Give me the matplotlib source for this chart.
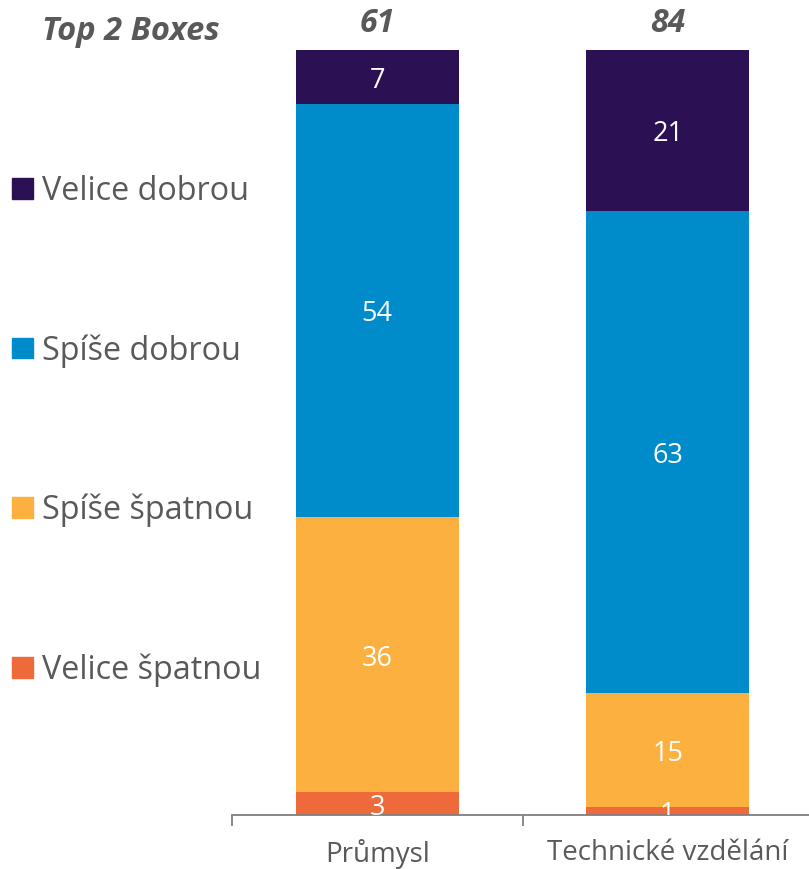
import matplotlib
matplotlib.use("Agg")
import matplotlib.pyplot as plt
import numpy as np

plt.rcParams['font.family'] = ['Open Sans', 'DejaVu Sans']

categories = ["Průmysl", "Technické vzdělání"]
series_names = ["Velice špatnou", "Spíše špatnou", "Spíše dobrou", "Velice dobrou"]
values = {
    "Velice špatnou": [3, 1],
    "Spíše špatnou": [36, 15],
    "Spíše dobrou": [54, 63],
    "Velice dobrou": [7, 21],
}
top2 = [61, 84]
colors = {
    "Velice špatnou": "#EE6A3A",
    "Spíše špatnou": "#FBB040",
    "Spíše dobrou": "#008BCB",
    "Velice dobrou": "#2B1153",
}
gray = "#595959"

W, H = 809, 869
fig = plt.figure(figsize=(W / 100, H / 100), dpi=100)
ax = fig.add_axes([232 / W, 1 - 815 / H, (813 - 232) / W, (815 - 50) / H])

x = np.arange(len(categories))
bottom = np.zeros(len(categories))
for name in series_names:
    v = np.array(values[name], dtype=float)
    ax.bar(x, v, bottom=bottom, width=0.56, color=colors[name], edgecolor="none")
    for xi, vi, bi in zip(x, v, bottom):
        ax.annotate(f"{int(vi)}", (xi, bi + vi / 2), xytext=(0, -3), textcoords="offset points",
                    ha="center", va="center", color="white", fontsize=19.5,
                    annotation_clip=False, clip_on=True)
    bottom += v

for xi, t in zip(x, top2):
    ax.annotate(f"{t}", (xi, 104.0), xytext=(0, -3), textcoords="offset points",
                ha="center", va="center", color=gray, fontsize=23,
                fontweight="bold", fontstyle="italic", annotation_clip=False)

ax.set_xlim(-0.5, 1.5)
ax.set_ylim(0, 100)
for s in ["left", "right", "top"]:
    ax.spines[s].set_visible(False)
ax.spines["bottom"].set_color("#7f7f7f")
ax.spines["bottom"].set_linewidth(1.3)
ax.set_yticks([])
ax.set_xticks(x)
ax.set_xticklabels(categories, fontsize=20, color=gray)
ax.tick_params(axis="x", which="major", length=0, pad=17)
ax.set_xticks([-0.5, 0.5, 1.5], minor=True)
ax.tick_params(axis="x", which="minor", length=8, width=1.3, color="#7f7f7f")

fig.text(42 / W, 1 - 31 / H, "Top 2 Boxes", ha="left", va="center", color=gray,
         fontsize=23.5, fontweight="bold", fontstyle="italic")

leg_items = ["Velice dobrou", "Spíše dobrou", "Spíše špatnou", "Velice špatnou"]
leg_y = [188, 348, 507, 667]
for name, yy in zip(leg_items, leg_y):
    fig.patches.append(plt.Rectangle((12 / W, 1 - (yy + 10.5) / H), 21 / W, 21 / H,
                                     transform=fig.transFigure, color=colors[name]))
    fig.text(42 / W, 1 - (yy + 3) / H, name, ha="left", va="center", color=gray, fontsize=23.3)

fig.savefig("out.png", dpi=100)
